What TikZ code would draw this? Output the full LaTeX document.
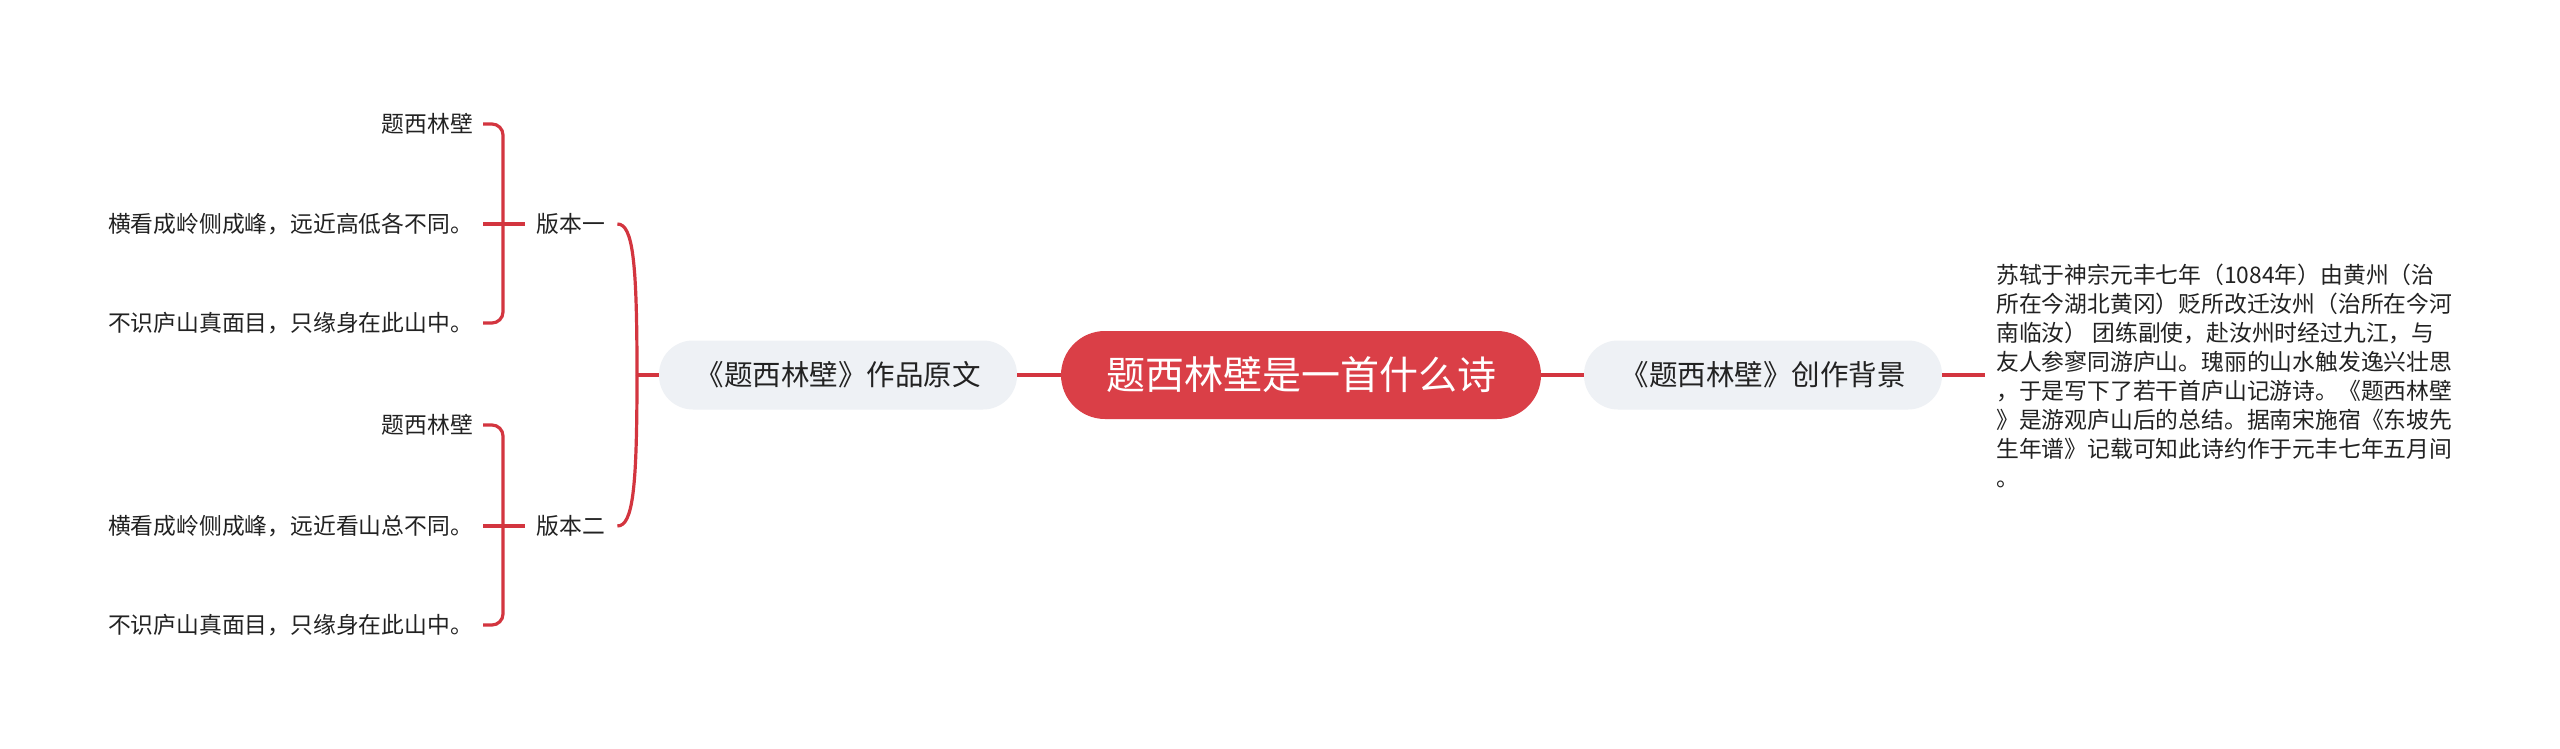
\documentclass[tikz,border=0pt]{standalone}
\usepackage{fontspec}
\setmainfont{Noto Sans CJK SC}
\definecolor{cred}{HTML}{DA3F47}
\definecolor{lred}{HTML}{D3353F}
\definecolor{cgrey}{HTML}{EEF1F5}
\definecolor{ctext}{HTML}{222222}
\tikzset{
  root/.style={fill=cred,text=white,rounded corners=44pt,minimum width=480pt,minimum height=88pt,inner sep=0pt,font=\fontsize{39pt}{46pt}\selectfont},
  topic/.style={fill=cgrey,text=ctext,rounded corners=34pt,minimum width=358pt,minimum height=69pt,inner sep=0pt,font=\fontsize{28.5pt}{33pt}\selectfont},
  leaf/.style={text=ctext,inner sep=0pt,font=\fontsize{22.8pt}{29pt}\selectfont},
  conn/.style={draw=lred,line width=3.2pt},
}
\begin{document}
\begin{tikzpicture}[x=1pt,y=-1pt]
\useasboundingbox[fill=white] (0,0) rectangle (2560,749);
% main nodes
\node[root] (root) at (1301,375) {题西林壁是一首什么诗};
\node[topic] (bg) at (1763,375) {《题西林壁》创作背景};
\node[topic] (orig) at (838,375) {《题西林壁》作品原文};
% background text
\node[leaf,anchor=north west,align=left] (bgtext) at (1996,264) {苏轼于神宗元丰七年（1084年）由黄州（治\\所在今湖北黄冈）贬所改迁汝州（治所在今河\\南临汝） 团练副使，赴汝州时经过九江，与\\友人参寥同游庐山。瑰丽的山水触发逸兴壮思\\，于是写下了若干首庐山记游诗。《题西林壁\\》是游观庐山后的总结。据南宋施宿《东坡先\\生年谱》记载可知此诗约作于元丰七年五月间\\。};
\coordinate (bgend) at (1985,375);
% versions
\node[leaf] (v1) at (571,224) {版本一};
\node[leaf] (v2) at (571,526) {版本二};
% children version 1
\node[leaf,anchor=east] (a1) at (473,124) {题西林壁};
\node[leaf,anchor=east] (a2) at (473,224) {横看成岭侧成峰，远近高低各不同。};
\node[leaf,anchor=east] (a3) at (473,323) {不识庐山真面目，只缘身在此山中。};
% children version 2
\node[leaf,anchor=east] (b1) at (473,425) {题西林壁};
\node[leaf,anchor=east] (b2) at (473,526) {横看成岭侧成峰，远近看山总不同。};
\node[leaf,anchor=east] (b3) at (473,625) {不识庐山真面目，只缘身在此山中。};
% connectors
\draw[conn] (root.east) -- (bg.west);
\draw[conn] (bg.east) -- (bgend);
\draw[conn] (root.west) -- (orig.east);
\coordinate (J) at (637,375);
\draw[conn] (orig.west) -- (J);
\draw[conn] (J) .. controls (637,262) and (633,224) .. ([xshift=12pt]v1.east);
\draw[conn] (J) .. controls (637,488) and (633,526) .. ([xshift=12pt]v2.east);
\draw[conn,rounded corners=11pt] ([xshift=10pt]a1.east) -- ++(20,0) |- ([xshift=10pt]a3.east);
\draw[conn] ([xshift=-12pt]v1.west) -- ([xshift=10pt]a2.east);
\draw[conn,rounded corners=11pt] ([xshift=10pt]b1.east) -- ++(20,0) |- ([xshift=10pt]b3.east);
\draw[conn] ([xshift=-12pt]v2.west) -- ([xshift=10pt]b2.east);
\end{tikzpicture}
\end{document}
